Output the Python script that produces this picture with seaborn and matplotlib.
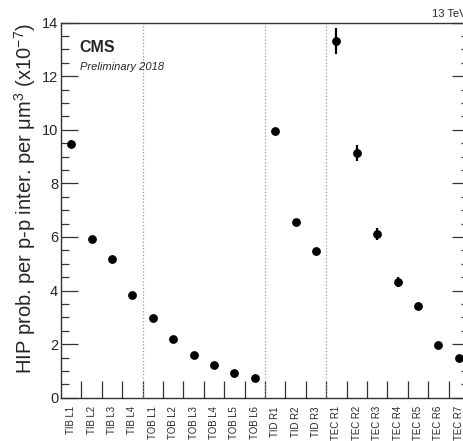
import numpy as np
import pandas as pd
import matplotlib
matplotlib.use('Agg')
import matplotlib.pyplot as plt
import seaborn as sns

# data
layers = ['TIB L1', 'TIB L2', 'TIB L3', 'TIB L4',
          'TOB L1', 'TOB L2', 'TOB L3', 'TOB L4', 'TOB L5', 'TOB L6',
          'TID R1', 'TID R2', 'TID R3',
          'TEC R1', 'TEC R2', 'TEC R3', 'TEC R4', 'TEC R5', 'TEC R6', 'TEC R7']
hip_prob = [9.46, 5.91, 5.19, 3.84,
            2.99, 2.18, 1.58, 1.23, 0.92, 0.74,
            9.95, 6.56, 5.49,
            13.32, 9.14, 6.11, 4.32, 3.43, 1.98, 1.47]
hip_err = [0.15, 0.05, 0.05, 0.05,
           0.04, 0.03, 0.03, 0.03, 0.02, 0.02,
           0.08, 0.08, 0.08,
           0.47, 0.29, 0.23, 0.17, 0.08, 0.05, 0.05]
boundaries = [3.5, 9.5, 12.5]

df = pd.DataFrame({'pos': np.arange(len(layers)), 'layer': layers,
                   'prob': hip_prob, 'err': hip_err})

sns.set_theme(style='ticks')
plt.rcParams['font.family'] = ['Liberation Sans', 'DejaVu Sans']
plt.rcParams['mathtext.fontset'] = 'custom'
plt.rcParams['mathtext.rm'] = 'Liberation Sans'
plt.rcParams['mathtext.it'] = 'Liberation Sans:italic'

fig = plt.figure(figsize=(4.64, 4.41), dpi=100)
ax = fig.add_axes([61 / 464, 43.3 / 441, 408 / 464, 375 / 441])

# dotted separators between sub-detectors
for b in boundaries:
    ax.plot([b, b], [0, 14], color='#999999', linestyle=':', linewidth=0.9, zorder=1)

ax.errorbar(df['pos'], df['prob'], yerr=df['err'], fmt='none',
            ecolor='black', elinewidth=1.6, capsize=0, zorder=2)
sns.scatterplot(data=df, x='pos', y='prob', ax=ax, color='black', s=40,
                edgecolor='black', linewidth=0, zorder=3, legend=False)

ax.set_xlim(-0.5, len(layers) - 0.5)
ax.set_ylim(0, 14)

ax.set_xticks(df['pos'])
ax.set_xticklabels(layers, rotation=90, fontsize=6.9)
ax.set_xticks(np.arange(0.5, len(layers) - 0.5, 1), minor=True)
ax.tick_params(axis='x', which='major', length=0, pad=6)
ax.tick_params(axis='x', which='minor', direction='in', length=12, width=0.9, color='#333333')

ax.set_yticks(np.arange(0, 15, 2))
ax.set_yticks(np.arange(0, 14.01, 0.5), minor=True)
ax.tick_params(axis='y', which='major', direction='in', length=12, width=0.9,
               left=True, right=True, labelsize=10.5, pad=2, color='#333333')
ax.tick_params(axis='y', which='minor', direction='in', length=6, width=0.9,
               left=True, right=True, color='#333333')

for s in ax.spines.values():
    s.set_color('#333333')
    s.set_linewidth(1.0)

ax.set_xlabel('')
ax.set_ylabel(r'HIP prob. per p-p inter. per $\mathrm{\mu}$m$^{3}$ (x10$^{-7}$)',
              fontsize=14.5, loc='top', labelpad=3)

ax.text(0.046, 0.935, 'CMS', transform=ax.transAxes, fontsize=11.5,
        fontweight='bold', va='center', ha='left')
ax.text(0.046, 0.882, 'Preliminary 2018', transform=ax.transAxes, fontsize=8,
        style='italic', va='center', ha='left')
fig.text(432 / 464, 1 - 14 / 441, '13 TeV', fontsize=8, va='center', ha='left')

fig.savefig('out.png', dpi=100)
